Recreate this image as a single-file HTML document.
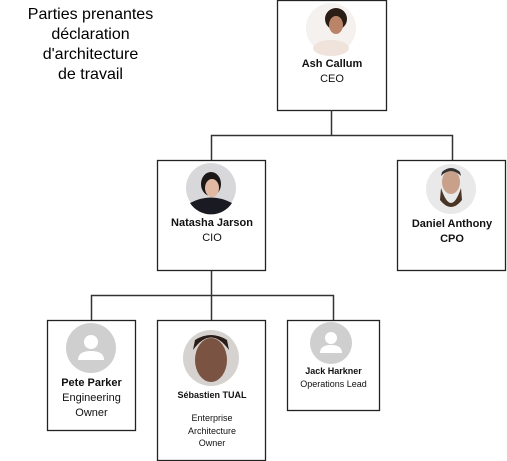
<!DOCTYPE html>
<html><head><meta charset="utf-8"><style>
body{margin:0;background:#fff;width:507px;height:461px;overflow:hidden;position:relative;font-family:"Liberation Sans",sans-serif;}
.t{position:absolute;text-align:center;color:#111;white-space:nowrap;}
</style></head><body>
<svg width="507" height="461" style="position:absolute;left:0;top:0">
<g fill="none" stroke="#222" stroke-width="1.3">
<rect x="277.5" y="0.5" width="109" height="110"/>
<rect x="157.5" y="160.5" width="108" height="110"/>
<rect x="397.5" y="160.5" width="108" height="110"/>
<rect x="47.5" y="320.5" width="88" height="110"/>
<rect x="157.5" y="320.5" width="108" height="140"/>
<rect x="287.5" y="320.5" width="92" height="90"/>
</g>
<g fill="none" stroke="#333" stroke-width="1.5">
<path d="M331.5 110V135.5H211.5V160M331.5 135.5H452.5V160"/>
<path d="M211.5 271V295.5H91.5V320M211.5 295.5H333.5V320M211.5 295.5V320"/>
</g>
<!-- CEO photo -->
<circle cx="331" cy="28" r="25" fill="#f4f1ef"/>
<ellipse cx="331" cy="48" rx="18" ry="8" fill="#efe3dc"/>
<circle cx="336" cy="19" r="11" fill="#2a1d16"/>
<ellipse cx="336" cy="25" rx="7" ry="9" fill="#b98468"/>
<!-- CIO -->
<circle cx="211" cy="188" r="25" fill="#d8d8da"/>
<path d="M190 203 Q211 192 232 203 A25 25 0 0 1 190 203Z" fill="#1a1a22"/>
<ellipse cx="211" cy="184" rx="10" ry="12" fill="#1b1717"/>
<ellipse cx="212" cy="188" rx="7" ry="9" fill="#e1b9a2"/>
<!-- CPO -->
<circle cx="451" cy="189" r="25" fill="#e9e9e9"/>
<ellipse cx="451" cy="182" rx="9" ry="12" fill="#c9a08a"/>
<path d="M441 188 Q451 218 461 188 L462 200 Q451 214 440 200Z" fill="#4a3426"/>
<path d="M441 176 Q451 166 461 176 L460 172 Q451 164 442 172Z" fill="#333"/>
<!-- Pete -->
<circle cx="91" cy="348" r="25" fill="#cfcfcf"/>
<circle cx="91" cy="342" r="7" fill="#fff"/>
<path d="M78 360 Q78 351 91 351 Q104 351 104 360Z" fill="#fff"/>
<!-- Sebastien -->
<circle cx="211" cy="358" r="28" fill="#d6d2cf"/>
<ellipse cx="211" cy="360" rx="16" ry="22" fill="#7a5342"/>
<path d="M193 350 Q211 325 229 350 L227 340 Q211 330 195 340Z" fill="#2a1c16"/>
<!-- Jack -->
<circle cx="331" cy="343" r="21" fill="#cfcfcf"/>
<circle cx="331" cy="338" r="6" fill="#fff"/>
<path d="M320 353 Q320 345 331 345 Q342 345 342 353Z" fill="#fff"/>
</svg>
<div class="t" style="left:0;width:181px;top:5px;font-size:16px;line-height:20px;color:#000">Parties prenantes<br>déclaration<br>d'architecture<br>de travail</div>
<div class="t" style="left:277px;width:110px;top:57px;font-size:11px;line-height:15px"><b>Ash Callum</b><br>CEO</div>
<div class="t" style="left:157px;width:110px;top:216px;font-size:11px;line-height:15px"><b>Natasha Jarson</b><br>CIO</div>
<div class="t" style="left:397px;width:110px;top:217px;font-size:11px;line-height:15px"><b>Daniel Anthony<br>CPO</b></div>
<div class="t" style="left:47px;width:89px;top:376px;font-size:11px;line-height:15px"><b>Pete Parker</b><br>Engineering<br>Owner</div>
<div class="t" style="left:157px;width:110px;top:389px;font-size:9px;line-height:12px"><b>Sébastien TUAL</b></div>
<div class="t" style="left:157px;width:110px;top:412px;font-size:9px;line-height:12.5px">Enterprise<br>Architecture<br>Owner</div>
<div class="t" style="left:287px;width:93px;top:365px;font-size:9px;line-height:12.5px"><b>Jack Harkner</b><br>Operations Lead</div>
</body></html>
